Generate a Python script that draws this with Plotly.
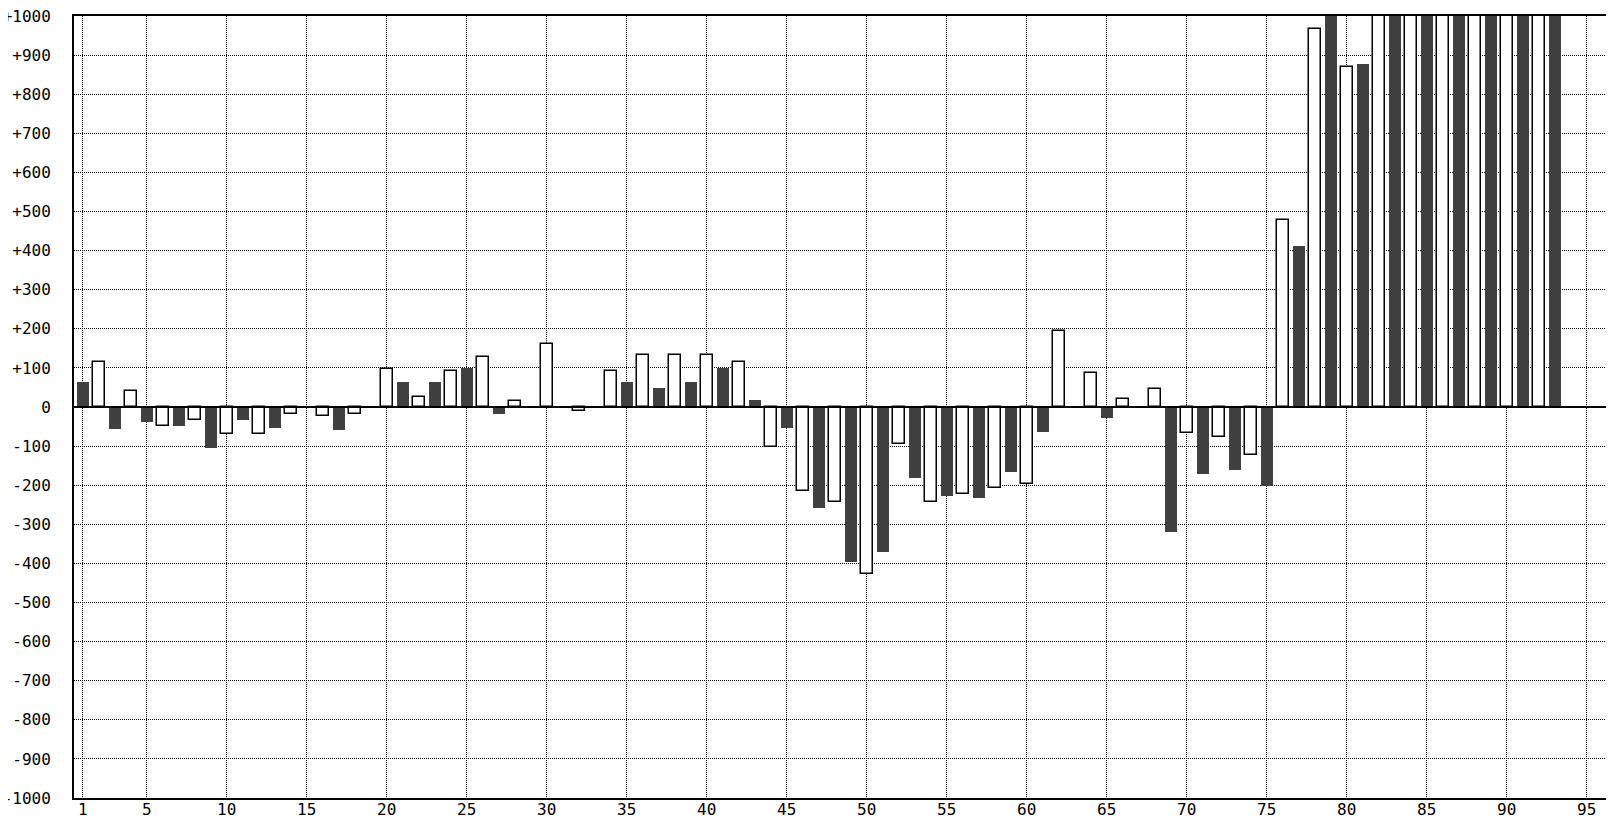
import plotly.graph_objects as go

# Dark series: odd positions 1..93
dark_x = list(range(1, 94, 2))
dark_values = [65, -55, -38, -48, -105, -33, -54, 0, -59, 0,
               63, 63, 99, -18, 0, 0, 0, 63, 48, 63,
               99, 17, -54, -258, -396, -371, -181, -228, -233, -166,
               -64, 0, -28, 0, -320, -171, -161, -202, 411, 1100,
               876, 1100, 1100, 1100, 1100, 1100, 1100]

# White series: even positions 2..92
white_x = list(range(2, 93, 2))
white_values = [115, 42, -48, -32, -68, -68, -17, -22, -17, 97,
                26, 93, 129, 15, 160, -11, 93, 134, 134, 134,
                114, -103, -216, -242, -426, -94, -242, -222, -206, -196,
                194, 87, 20, 46, -67, -77, -124, 477, 968, 870,
                1100, 1100, 1100, 1100, 1100, 1100]

x_tick_vals = [1] + list(range(5, 96, 5))
x_tick_text = [str(v) for v in x_tick_vals]
y_tick_vals = list(range(1000, -1001, -100))
y_tick_text = [("+" + str(v)) if v > 0 else str(v) for v in y_tick_vals]

FONT = dict(family="DejaVu Sans Mono", size=16, color="black")

fig = go.Figure()
fig.add_trace(go.Bar(x=white_x, y=white_values, width=0.75,
                     marker=dict(color="white", line=dict(color="black", width=1.5)),
                     showlegend=False))
fig.add_trace(go.Bar(x=dark_x, y=dark_values, width=0.75,
                     marker=dict(color="#404040", line=dict(width=0)),
                     showlegend=False))

fig.add_shape(type="line", xref="paper", x0=0, x1=1, yref="y", y0=0, y1=0,
              line=dict(color="black", width=2), layer="above")

# page body has an 8px margin, so the figure is sized/offset to compensate
fig.update_layout(
    width=1606, height=812,
    margin=dict(l=66, r=0, t=8, b=22, autoexpand=False),
    plot_bgcolor="white", paper_bgcolor="white",
    barmode="overlay", bargap=0,
    font=FONT,
)
fig.update_xaxes(range=[0.456, 96.706], tickvals=x_tick_vals, ticktext=x_tick_text,
                 showgrid=True, gridcolor="black", gridwidth=1, griddash="1px,1px",
                 showline=True, linecolor="black", linewidth=2, mirror=True,
                 zeroline=False, ticks="", tickfont=FONT, ticklabelstandoff=-4,
                 ticklabeloverflow="allow")
fig.update_yaxes(range=[-1000, 1000], tickvals=y_tick_vals, ticktext=y_tick_text,
                 showgrid=True, gridcolor="black", gridwidth=1, griddash="1px,1px",
                 showline=True, linecolor="black", linewidth=2,
                 zeroline=False, ticks="", tickfont=FONT, ticklabelstandoff=18,
                 ticklabeloverflow="allow")

fig.write_html("out.html")
